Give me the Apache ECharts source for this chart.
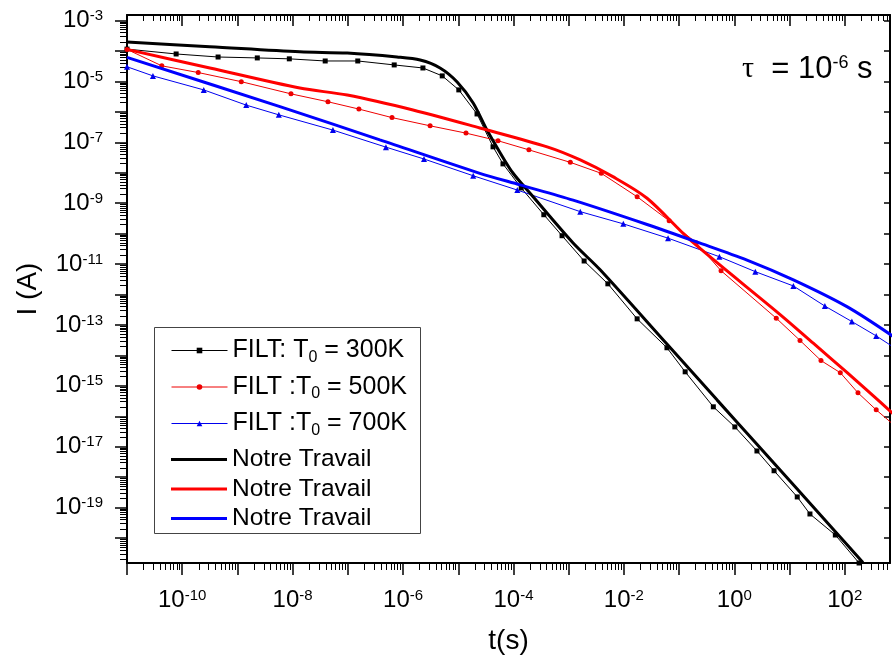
<!DOCTYPE html>
<html>
<head>
<meta charset="utf-8">
<script src="https://cdn.jsdelivr.net/npm/echarts@6/dist/echarts.min.js"></script>
<style>
  html, body { margin: 0; padding: 0; background: #fff; }
  #chart { width: 893px; height: 663px; }
</style>
</head>
<body>
<div id="chart"></div>
<script>
// All values are decimal exponents: lgT = log10(t / s), lgI = log10(I / A).

// FILT model, T0 = 300 K
const lgT_f300 = [-11, -10.11, -9.35, -8.64, -8.06, -7.41, -6.82, -6.16, -5.64, -5.29, -4.99, -4.66, -4.37, -4.19, -3.86, -3.45, -3.12, -2.72, -2.29, -1.76, -1.22, -0.89, -0.38, 0.01, 0.41, 0.72, 1.14, 1.37, 1.83, 2.26];
const lgI_f300 = [-3.94, -4.10, -4.20, -4.23, -4.26, -4.33, -4.33, -4.46, -4.56, -4.82, -5.28, -6.07, -7.15, -7.71, -8.50, -9.38, -10.07, -10.90, -11.65, -12.80, -13.75, -14.54, -15.69, -16.35, -17.14, -17.79, -18.65, -19.21, -19.90, -20.82];

// FILT model, T0 = 500 K
const lgT_f500 = [-11, -10.37, -9.71, -8.93, -8.03, -7.36, -6.80, -6.20, -5.51, -4.86, -4.28, -3.72, -2.97, -2.41, -1.76, -1.18, -0.69, -0.24, 0.76, 1.19, 1.57, 1.92, 2.24, 2.57, 2.9];
const lgI_f500 = [-3.95, -4.49, -4.71, -5.01, -5.41, -5.67, -5.91, -6.19, -6.46, -6.70, -6.95, -7.25, -7.66, -8.02, -8.79, -9.58, -10.30, -11.22, -12.78, -13.51, -14.17, -14.57, -15.23, -15.79, -16.30];

// FILT model, T0 = 700 K
const lgT_f700 = [-11, -10.53, -9.61, -8.84, -8.25, -7.27, -6.31, -5.62, -4.73, -3.93, -2.79, -2.01, -1.20, -0.27, 0.38, 1.07, 1.64, 2.13, 2.57, 2.9];
const lgI_f700 = [-4.52, -4.82, -5.28, -5.78, -6.10, -6.60, -7.16, -7.55, -8.10, -8.57, -9.28, -9.68, -10.15, -10.76, -11.25, -11.72, -12.38, -12.89, -13.36, -13.75];

// Present work, 300 K
const lgT_n300 = [-11, -9.5, -7.87, -7.01, -6.11, -5.69, -5.33, -5.02, -4.73, -4.48, -4.24, -4.01, -3.64, -2.92, -2.43, -1.22, -0.31, 0.41, 1.86, 2.33];
const lgI_n300 = [-3.71, -3.86, -4.03, -4.07, -4.20, -4.30, -4.56, -5.02, -5.71, -6.60, -7.35, -8.01, -8.80, -10.31, -11.19, -13.63, -15.47, -16.92, -19.85, -20.80];

// Present work, 500 K
const lgT_n500 = [-11, -9.5, -7.87, -7.01, -5.82, -4.61, -3.39, -2.79, -2.20, -1.58, -0.80, 0.83, 1.43, 2.04, 2.64, 2.88];
const lgI_n500 = [-3.95, -4.56, -5.22, -5.45, -5.94, -6.53, -7.15, -7.58, -8.13, -8.84, -10.21, -12.66, -13.60, -14.56, -15.53, -15.92];

// Present work, 700 K
const lgT_n700 = [-11, -8.23, -6.42, -4.61, -3.88, -2.92, -1.58, -0.67, 0.23, 1.07, 2.04, 2.88];
const lgI_n700 = [-4.21, -5.83, -6.92, -8.02, -8.40, -8.90, -9.70, -10.28, -10.87, -11.52, -12.40, -13.38];

// Decades that carry a printed label
const xLabelExps = [-10, -8, -6, -4, -2, 0, 2];
const yLabelExps = [-19, -17, -15, -13, -11, -9, -7, -5, -3];

// Legend texts
const filtNames = ['FILT: T0 = 300K', 'FILT :T0 = 500K', 'FILT :T0 = 700K'];
const workNames = ['Notre Travail (300K)', 'Notre Travail (500K)', 'Notre Travail (700K)'];

const X_EXT = [-11, 2.82];
const Y_EXT = [-20.82, -2.82];

function range(a, b) { const r = []; for (let i = a; i <= b; i++) r.push(i); return r; }
function majorTicks(ext) {
  return range(Math.ceil(ext[0]), Math.floor(ext[1]));
}
function minorTicks(ext) {
  const r = [];
  for (let d = Math.floor(ext[0]) - 1; d <= Math.ceil(ext[1]); d++) {
    for (let k = 2; k <= 9; k++) {
      const v = d + Math.log10(k);
      if (v > ext[0] && v < ext[1]) r.push(+v.toFixed(5));
    }
  }
  return r;
}
const pairs = (xs, ys) => xs.map((x, i) => [x, ys[i]]);

const FONT = 'Liberation Sans, Arial, sans-serif';
const powRich = {
  b: { fontFamily: FONT, fontSize: 24, lineHeight: 24, color: '#000' },
  s: { fontFamily: FONT, fontSize: 15, lineHeight: 8, verticalAlign: 'top', color: '#000' }
};
const powFmt = v => '{b|10}{s|' + Math.round(v) + '}';

function axisCommon(ext) {
  return { type: 'value', min: ext[0], max: ext[1], splitLine: { show: false }, gridIndex: 0 };
}

const xAxes = [
  Object.assign(axisCommon(X_EXT), {
    position: 'bottom',
    axisLine: { show: true, onZero: false, lineStyle: { color: '#000', width: 2 } },
    axisTick: { show: true, inside: false, length: 12, customValues: majorTicks(X_EXT), lineStyle: { color: '#000', width: 1.5 } },
    axisLabel: { show: true, customValues: xLabelExps, formatter: powFmt, rich: powRich, margin: 25 },
    name: 't(s)', nameLocation: 'middle', nameGap: 64,
    nameTextStyle: { fontFamily: FONT, fontSize: 28, color: '#000', lineHeight: 28 }
  }),
  Object.assign(axisCommon(X_EXT), {
    position: 'bottom',
    axisLine: { show: false, onZero: false },
    axisTick: { show: true, inside: false, length: 7, customValues: minorTicks(X_EXT), lineStyle: { color: '#000', width: 1 } },
    axisLabel: { show: false }
  }),
  Object.assign(axisCommon(X_EXT), {
    position: 'top',
    axisLine: { show: true, onZero: false, lineStyle: { color: '#000', width: 2 } },
    axisTick: { show: true, inside: true, length: 11, customValues: majorTicks(X_EXT), lineStyle: { color: '#000', width: 1.5 } },
    axisLabel: { show: false }
  }),
  Object.assign(axisCommon(X_EXT), {
    position: 'top',
    axisLine: { show: false, onZero: false },
    axisTick: { show: true, inside: true, length: 6, customValues: minorTicks(X_EXT), lineStyle: { color: '#000', width: 1 } },
    axisLabel: { show: false }
  })
];

const yAxes = [
  Object.assign(axisCommon(Y_EXT), {
    position: 'left',
    axisLine: { show: true, onZero: false, lineStyle: { color: '#000', width: 2 } },
    axisTick: { show: true, inside: false, length: 12, customValues: majorTicks(Y_EXT), lineStyle: { color: '#000', width: 1.5 } },
    axisLabel: { show: true, customValues: yLabelExps, formatter: powFmt, rich: powRich, margin: 24 },
    name: 'I (A)', nameLocation: 'middle', nameGap: 85, nameRotate: 90,
    nameTextStyle: { fontFamily: FONT, fontSize: 28, color: '#000', lineHeight: 28 }
  }),
  Object.assign(axisCommon(Y_EXT), {
    position: 'left',
    axisLine: { show: false, onZero: false },
    axisTick: { show: true, inside: false, length: 7, customValues: minorTicks(Y_EXT), lineStyle: { color: '#000', width: 1 } },
    axisLabel: { show: false }
  }),
  Object.assign(axisCommon(Y_EXT), {
    position: 'right',
    axisLine: { show: true, onZero: false, lineStyle: { color: '#000', width: 2 } },
    axisTick: { show: true, inside: true, length: 6, customValues: majorTicks(Y_EXT), lineStyle: { color: '#000', width: 1.5 } },
    axisLabel: { show: false }
  })
];

function thin(name, xs, ys, color, symbol, size) {
  return {
    name, type: 'line', xAxisIndex: 0, yAxisIndex: 0,
    data: pairs(xs, ys), symbol, symbolSize: size, showSymbol: true,
    lineStyle: { color, width: 1 }, itemStyle: { color },
    clip: true, z: 2
  };
}
function thick(name, xs, ys, color) {
  return {
    name, type: 'line', xAxisIndex: 0, yAxisIndex: 0,
    data: pairs(xs, ys), symbol: 'none', smooth: 0.3,
    lineStyle: { color, width: 3 }, itemStyle: { color },
    clip: true, z: 3
  };
}

const legendRich = {
  n: { fontFamily: FONT, fontSize: 25, lineHeight: 30, color: '#000' },
  d: { fontFamily: FONT, fontSize: 16, lineHeight: 2, verticalAlign: 'bottom', color: '#000' },
  w: { fontFamily: FONT, fontSize: 24.5, lineHeight: 24, color: '#000' }
};

const option = {
  animation: false,
  backgroundColor: '#fff',
  grid: { left: 127, right: 3, top: 15, bottom: 100, containLabel: false, outerBoundsMode: 'none' },
  title: {
    text: '{t|τ}{m|  = 10}{p|-6}{m| s}',
    left: 742, top: 54, padding: 0,
    textStyle: {
      fontWeight: 'normal',
      rich: {
        t: { fontFamily: 'Liberation Serif, serif', fontSize: 30, lineHeight: 30, fontWeight: 'normal', color: '#000' },
        m: { fontFamily: FONT, fontSize: 31, lineHeight: 30, fontWeight: 'normal', color: '#000' },
        p: { fontFamily: FONT, fontSize: 18, lineHeight: 11, verticalAlign: 'top', fontWeight: 'normal', color: '#000' }
      }
    }
  },
  legend: [
    {
      data: filtNames.map(name => ({ name, lineStyle: { width: 1 } })),
      orient: 'vertical', left: 171, top: 338, padding: 0,
      itemWidth: 56, itemHeight: 7, itemGap: 9,
      formatter: name => {
        const m = name.match(/^(.*T)0( = .*)$/);
        return '{n|' + m[1] + '}{d|0}{n|' + m[2] + '}';
      },
      textStyle: { rich: legendRich }
    },
    {
      data: workNames.map(name => ({ name, icon: 'rect' })),
      orient: 'vertical', left: 171, top: 447, padding: 0,
      itemWidth: 56, itemHeight: 3, itemGap: 4.5,
      formatter: () => '{w|Notre Travail}',
      textStyle: { rich: legendRich }
    }
  ],
  graphic: [{
    type: 'rect', left: 152, top: 325, z: 1,
    shape: { width: 266, height: 206 },
    style: { fill: 'none', stroke: '#444', lineWidth: 1 }
  }],
  xAxis: xAxes,
  yAxis: yAxes,
  series: [
    thin(filtNames[0], lgT_f300, lgI_f300, '#000000', 'rect', 5),
    thin(filtNames[1], lgT_f500, lgI_f500, '#ee0000', 'circle', 5),
    thin(filtNames[2], lgT_f700, lgI_f700, '#0000ee', 'triangle', 6),
    thick(workNames[0], lgT_n300, lgI_n300, '#000000'),
    thick(workNames[1], lgT_n500, lgI_n500, '#ff0000'),
    thick(workNames[2], lgT_n700, lgI_n700, '#0000ff')
  ]
};

const chart = echarts.init(document.getElementById('chart'), null, { renderer: 'canvas' });
chart.setOption(option);
</script>
</body>
</html>
